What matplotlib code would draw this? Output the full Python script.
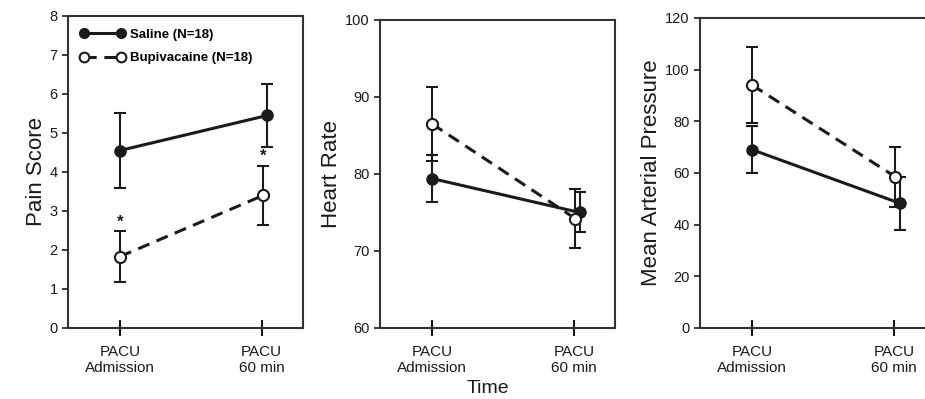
import matplotlib.pyplot as plt
from matplotlib.lines import Line2D

plt.rcParams['font.family'] = ['Liberation Sans', 'DejaVu Sans']

time_labels = ['PACU\nAdmission', 'PACU\n60 min']
series_names = ['Saline (N=18)', 'Bupivacaine (N=18)']

pain_saline = [4.55, 5.45]
pain_saline_err = [0.95, 0.8]
pain_bupi = [1.83, 3.4]
pain_bupi_err = [0.65, 0.76]

hr_saline = [79.4, 75.0]
hr_saline_err = [3.0, 2.6]
hr_bupi = [86.5, 74.2]
hr_bupi_err = [4.8, 3.8]

map_saline = [69.0, 48.3]
map_saline_err = [9.0, 10.3]
map_bupi = [94.0, 58.5]
map_bupi_err = [14.7, 11.6]

panels = [
    ('Pain Score', pain_saline, pain_saline_err, pain_bupi, pain_bupi_err, (0, 8), range(0, 9, 1)),
    ('Heart Rate', hr_saline, hr_saline_err, hr_bupi, hr_bupi_err, (60, 100), range(60, 101, 10)),
    ('Mean Arterial Pressure', map_saline, map_saline_err, map_bupi, map_bupi_err, (0, 120), range(0, 121, 20)),
]

fig = plt.figure(figsize=(9.25, 3.99), dpi=100)
rects = [
    [0.0735, 0.178, 0.254, 0.782],
    [0.411, 0.178, 0.254, 0.772],
    [0.757, 0.178, 0.254, 0.777],
]

x = [0, 1]
ink = '#1a1a1a'
dash = (0, (4, 2.5))
for (label, sal, sal_err, bup, bup_err, ylim, yticks), rect in zip(panels, rects):
    ax = fig.add_axes(rect)
    xs = [x[0], x[1] + 0.04]
    xb = [x[0], x[1] + 0.01]
    ax.errorbar(xs, sal, yerr=sal_err, color=ink, lw=2.2, marker='o', ms=8,
                mfc=ink, mec=ink, capsize=4, capthick=1.5, elinewidth=1.5, zorder=3)
    ax.errorbar(xb, bup, yerr=bup_err, color=ink, lw=2.2, ls=dash,
                marker='o', ms=8, mfc='white', mec=ink, mew=1.5, capsize=4,
                capthick=1.5, elinewidth=1.5, zorder=4)
    ax.set_xlim(-0.366, 1.29)
    ax.set_ylim(*ylim)
    ax.set_yticks(list(yticks))
    ax.set_xticks(x)
    ax.set_xticklabels(time_labels, fontsize=11, color=ink)
    ax.tick_params(axis='y', direction='out', length=4, width=1.2, labelsize=10.5, colors=ink)
    ax.tick_params(axis='x', direction='inout', length=12, width=1.5, pad=6, colors=ink)
    ax.set_ylabel(label, fontsize=16, color=ink, labelpad=2)
    for s in ax.spines.values():
        s.set_linewidth(1.5)
        s.set_color('#333333')
    if label == 'Pain Score':
        for xi, yi, ei in zip(xb, bup, bup_err):
            ax.text(xi, yi + ei + 0.05, '*', ha='center', va='bottom', fontsize=12, fontweight='bold', color=ink)
        handles = [
            Line2D([], [], color=ink, lw=2.2, marker='o', ms=7, mfc=ink, mec=ink),
            Line2D([], [], color=ink, lw=2.2, ls=dash, marker='o', ms=7, mfc='white', mec=ink, mew=1.5),
        ]
        ax.legend(handles, series_names, loc='upper left', frameon=False,
                  numpoints=2, handlelength=3.4, handletextpad=0.35, labelspacing=0.85,
                  borderaxespad=0.45, borderpad=0.5, prop={'size': 9.5, 'weight': 'bold'})

fig.text(0.527, 0.005, 'Time', ha='center', va='bottom', fontsize=14, color=ink)

fig.savefig('out.png', dpi=100)
